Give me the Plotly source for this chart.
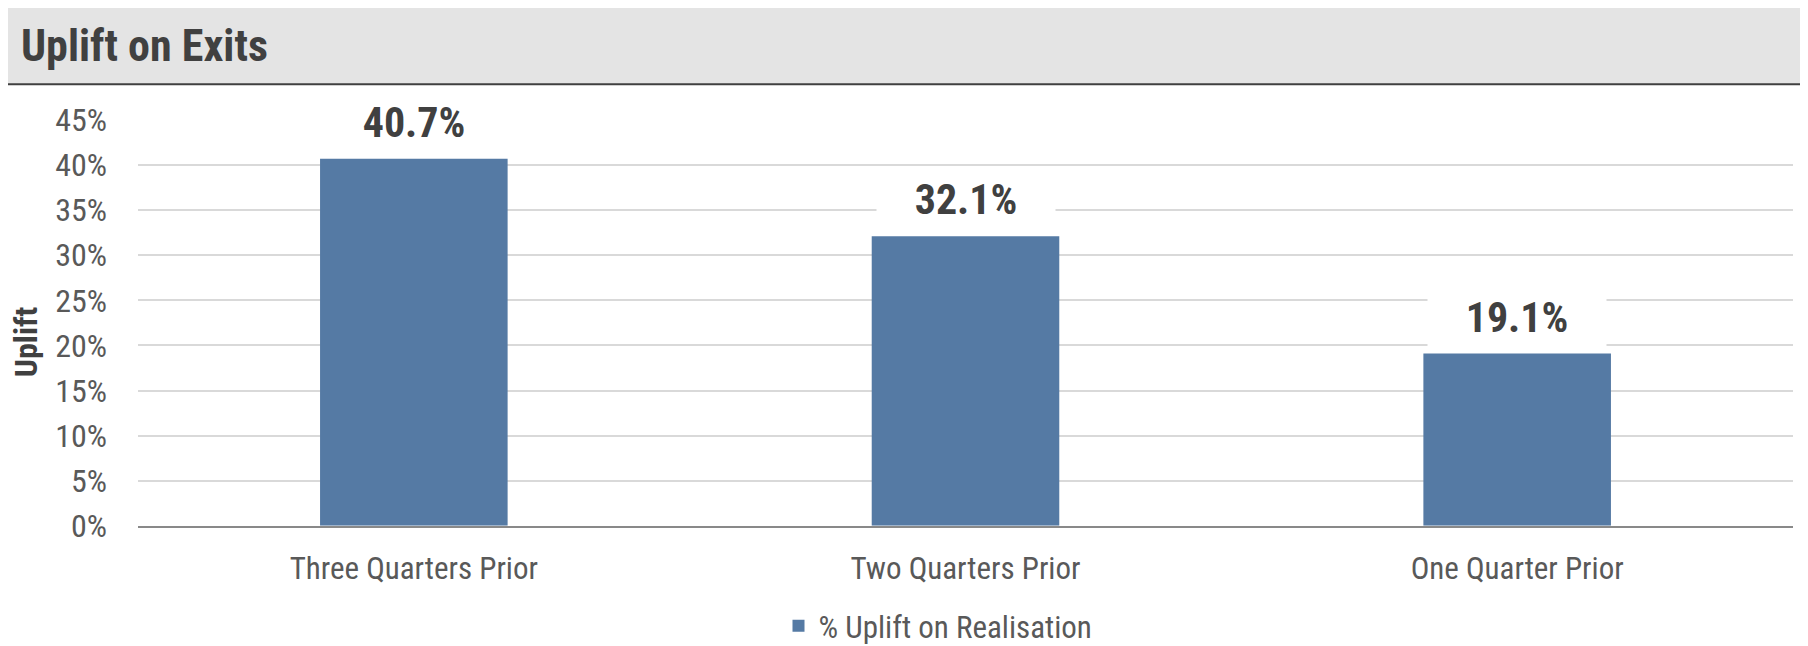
import plotly.graph_objects as go

# ---- data ----
categories = ["Three Quarters Prior", "Two Quarters Prior", "One Quarter Prior"]
uplift = [0.407, 0.321, 0.191]
series_name = "% Uplift on Realisation"
chart_title = "Uplift on Exits"
y_title = "Uplift"
y_tickvals = [0, 0.05, 0.10, 0.15, 0.20, 0.25, 0.30, 0.35, 0.40, 0.45]

# ---- layout constants (screen pixels; page body has an 8px margin) ----
SW, SH = 1808, 646          # browser window
OX, OY = 8, 8               # default body margin offset
W, H = SW - OX, SH - OY     # figure size so that it fits the window exactly
PL, PR, PT, PB = 138, 1793, 120, 529   # plot area in screen pixels
ML, MR, MT, MB = PL - OX, W - (PR - OX), PT - OY, H - (PB - OY)
PW, PH = W - ML - MR, H - MT - MB
FONT = "Liberation Sans Narrow, Arial Narrow, Roboto Condensed, sans-serif"
BAR_COLOR = "#557aa4"
DARK = "#404040"
MID = "#595959"


def px_x(sx):
    return (sx - OX - ML) / PW


def px_y(sy):
    return (H - MB - (sy - OY)) / PH


fig = go.Figure()
fig.add_trace(go.Bar(
    x=categories, y=uplift, name=series_name,
    marker=dict(color=BAR_COLOR, line=dict(width=0)),
    showlegend=True, hoverinfo="x+y",
))

annotations = []
for c, v in zip(categories, uplift):
    annotations.append(dict(
        x=c, y=v, xref="x", yref="y", text=f"{v:.1%}",
        showarrow=False, yanchor="middle", yshift=37,
        bgcolor="white", width=176, height=58,
        font=dict(family=FONT, size=42, color=DARK, weight="bold"),
    ))

# y-axis title
annotations.append(dict(
    x=px_x(26), y=px_y(344), xref="paper", yref="paper", text=y_title,
    textangle=-90, showarrow=False, xanchor="center", yanchor="middle",
    borderpad=0,
    font=dict(family=FONT, size=32, color=DARK, weight="bold"),
))

shapes = [
    # header band
    dict(type="rect", xref="paper", yref="paper",
         x0=px_x(OX), x1=px_x(SW + 5), y0=px_y(84), y1=px_y(6),
         fillcolor="#e4e4e4", line=dict(width=0), layer="below"),
    dict(type="line", xref="paper", yref="paper",
         x0=px_x(OX), x1=px_x(SW + 5), y0=px_y(84), y1=px_y(84),
         line=dict(color=DARK, width=2)),
]

fig.update_layout(
    width=W, height=H,
    margin=dict(l=ML, r=MR, t=MT, b=MB, pad=0),
    paper_bgcolor="white", plot_bgcolor="white",
    bargap=0.66,
    title=dict(text=chart_title, xref="container", yref="container",
               x=(21 - OX) / W, xanchor="left", y=1 - (46 - OY) / H,
               yanchor="middle",
               font=dict(family=FONT, size=44, color=DARK, weight="bold")),
    xaxis=dict(showline=True, linecolor="#898989", linewidth=2,
               showgrid=False, ticks="", ticklabelstandoff=14,
               tickfont=dict(family=FONT, size=31, color=MID)),
    yaxis=dict(range=[0, 0.45], tickvals=y_tickvals, tickformat=".0%",
               showgrid=True, gridcolor="#d9d9d9", gridwidth=1.5,
               zeroline=False, showline=False, ticks="",
               ticklabelstandoff=30,
               tickfont=dict(family=FONT, size=32, color=MID)),
    legend=dict(orientation="h", xref="paper", x=px_x(938), xanchor="center",
                yref="container", y=1 - (626 - OY) / H, yanchor="middle",
                font=dict(family=FONT, size=31, color=MID),
                itemsizing="constant", bgcolor="rgba(0,0,0,0)"),
    annotations=annotations,
    shapes=shapes,
)

fig.write_html("out.html")
